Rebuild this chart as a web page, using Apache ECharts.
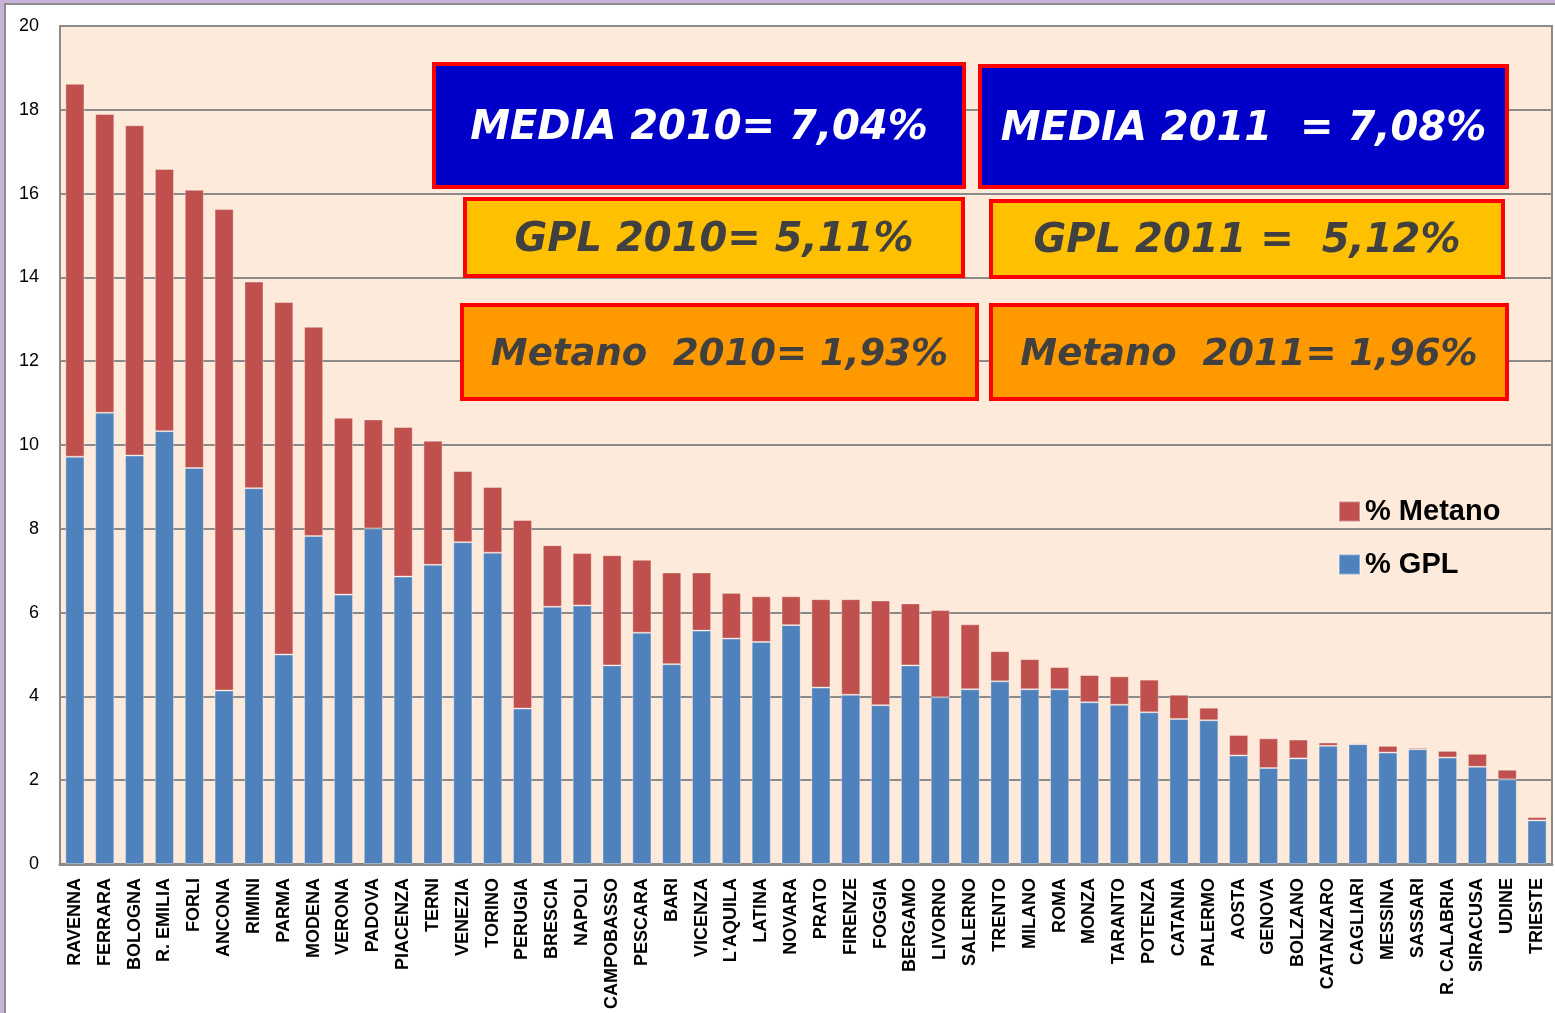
<!DOCTYPE html>
<html>
<head>
<meta charset="utf-8">
<script src="https://cdn.jsdelivr.net/npm/echarts@6/dist/echarts.min.js"></script>
<style>
  html, body { margin: 0; padding: 0; background: #fff; }
  #chart { width: 1555px; height: 1013px; }
</style>
</head>
<body>
<div id="chart"></div>
<script>
// citta in ordine di valore totale
var citta = ['RAVENNA', 'FERRARA', 'BOLOGNA', 'R. EMILIA', 'FORLI', 'ANCONA', 'RIMINI', 'PARMA', 'MODENA', 'VERONA',
    'PADOVA', 'PIACENZA', 'TERNI', 'VENEZIA', 'TORINO', 'PERUGIA', 'BRESCIA', 'NAPOLI', 'CAMPOBASSO', 'PESCARA',
    'BARI', 'VICENZA', "L'AQUILA", 'LATINA', 'NOVARA', 'PRATO', 'FIRENZE', 'FOGGIA', 'BERGAMO', 'LIVORNO',
    'SALERNO', 'TRENTO', 'MILANO', 'ROMA', 'MONZA', 'TARANTO', 'POTENZA', 'CATANIA', 'PALERMO', 'AOSTA',
    'GENOVA', 'BOLZANO', 'CATANZARO', 'CAGLIARI', 'MESSINA', 'SASSARI', 'R. CALABRIA', 'SIRACUSA', 'UDINE', 'TRIESTE'];

var gpl = [9.72, 10.77, 9.75, 10.33, 9.45, 4.14, 8.97, 5.00, 7.83, 6.43,
    8.01, 6.86, 7.14, 7.68, 7.43, 3.71, 6.14, 6.17, 4.74, 5.52,
    4.77, 5.57, 5.38, 5.30, 5.70, 4.21, 4.04, 3.79, 4.74, 3.98,
    4.17, 4.36, 4.17, 4.17, 3.86, 3.80, 3.62, 3.46, 3.43, 2.59,
    2.29, 2.52, 2.82, 2.86, 2.66, 2.74, 2.54, 2.32, 2.02, 1.04];

var metano = [8.90, 7.13, 7.88, 6.26, 6.64, 11.49, 4.93, 8.41, 4.99, 4.22,
    2.60, 3.57, 2.96, 1.70, 1.57, 4.50, 1.47, 1.25, 2.63, 1.74,
    2.19, 1.39, 1.09, 1.09, 0.69, 2.11, 2.28, 2.50, 1.48, 2.08,
    1.55, 0.72, 0.72, 0.53, 0.65, 0.68, 0.78, 0.58, 0.30, 0.49,
    0.71, 0.45, 0.08, 0.03, 0.16, 0.04, 0.16, 0.31, 0.23, 0.08];

var yTicks = { min: 0, max: 20, interval: 2 };

// riquadri con le medie
var riquadri = [
    {testo: 'MEDIA 2010= 7,04%', x: 434, y: 64, w: 530, h: 123, fondo: '#0000C8', colore: '#ffffff', size: 40},
    {testo: 'MEDIA 2011  = 7,08%', x: 980, y: 66, w: 527, h: 121, fondo: '#0000C8', colore: '#ffffff', size: 40},
    {testo: 'GPL 2010= 5,11%', x: 465, y: 199, w: 498, h: 77, fondo: '#FFC000', colore: '#404040', size: 40},
    {testo: 'GPL 2011 =  5,12%', x: 991, y: 201, w: 512, h: 76, fondo: '#FFC000', colore: '#404040', size: 40},
    {testo: 'Metano  2010= 1,93%', x: 462, y: 305, w: 515, h: 94, fondo: '#FF9900', colore: '#404040', size: 37},
    {testo: 'Metano  2011= 1,96%', x: 991, y: 305, w: 516, h: 94, fondo: '#FF9900', colore: '#404040', size: 37}
];

function riquadro(r) {
    return {
        type: 'group',
        x: r.x,
        y: r.y,
        z: 100,
        children: [
            {
                type: 'rect',
                z: 100,
                shape: {x: 0, y: 0, width: r.w, height: r.h},
                style: {fill: r.fondo, stroke: '#FF0000', lineWidth: 4}
            },
            {
                type: 'text',
                z: 101,
                x: r.w / 2,
                y: r.h / 2 + 3,
                style: {
                    text: r.testo,
                    fill: r.colore,
                    font: 'italic bold ' + r.size + 'px "DejaVu Sans"',
                    align: 'center',
                    verticalAlign: 'middle'
                }
            }
        ]
    };
}

var chart = echarts.init(document.getElementById('chart'));

var grafica = [
    {type: 'rect', z: 100, shape: {x: 0, y: 0, width: 4, height: 1013}, style: {fill: '#C7B2D9'}},
    {type: 'rect', z: 100, shape: {x: 0, y: 0, width: 1555, height: 3}, style: {fill: '#C7B2D9'}},
    {type: 'rect', z: 100, shape: {x: 5, y: 4, width: 1600, height: 1100}, style: {fill: 'none', stroke: '#8E8E8E', lineWidth: 2}}
];
riquadri.forEach(function (r) {
    grafica.push(riquadro(r));
});

chart.setOption({
    animation: false,
    backgroundColor: '#ffffff',
    grid: {
        left: 60,
        right: 3,
        top: 26,
        bottom: 149,
        show: true,
        backgroundColor: '#FDEADA',
        borderColor: '#8A8A8A',
        borderWidth: 2
    },
    legend: {
        data: ['% Metano', '% GPL'],
        orient: 'vertical',
        left: 1333,
        top: 492,
        itemWidth: 21,
        itemHeight: 20,
        itemGap: 24,
        icon: 'rect',
        textStyle: {
            fontSize: 29,
            fontWeight: 'bold',
            fontFamily: 'Liberation Sans',
            color: '#000'
        }
    },
    xAxis: {
        type: 'category',
        data: citta,
        axisLine: {lineStyle: {color: '#8A8A8A', width: 3}},
        axisTick: {show: false},
        axisLabel: {
            interval: 0,
            rotate: 90,
            margin: 14,
            fontSize: 18,
            fontWeight: 'bold',
            fontFamily: 'Liberation Sans',
            color: '#000'
        }
    },
    yAxis: {
        type: 'value',
        min: yTicks.min,
        max: yTicks.max,
        interval: yTicks.interval,
        axisLine: {show: true, lineStyle: {color: '#8A8A8A', width: 2}},
        axisTick: {show: false},
        axisLabel: {
            margin: 21,
            fontSize: 18,
            fontFamily: 'Liberation Sans',
            color: '#000'
        },
        splitLine: {lineStyle: {color: '#8A8A8A', width: 2}}
    },
    series: [
        {
            name: '% GPL',
            type: 'bar',
            stack: 'tot',
            data: gpl,
            barCategoryGap: '36%',
            itemStyle: {color: '#4F81BD', borderColor: 'rgba(255,255,255,0.35)', borderWidth: 1}
        },
        {
            name: '% Metano',
            type: 'bar',
            stack: 'tot',
            data: metano,
            barCategoryGap: '36%',
            itemStyle: {color: '#C0504D', borderColor: 'rgba(255,255,255,0.35)', borderWidth: 1}
        }
    ],
    graphic: grafica
});
</script>
</body>
</html>
